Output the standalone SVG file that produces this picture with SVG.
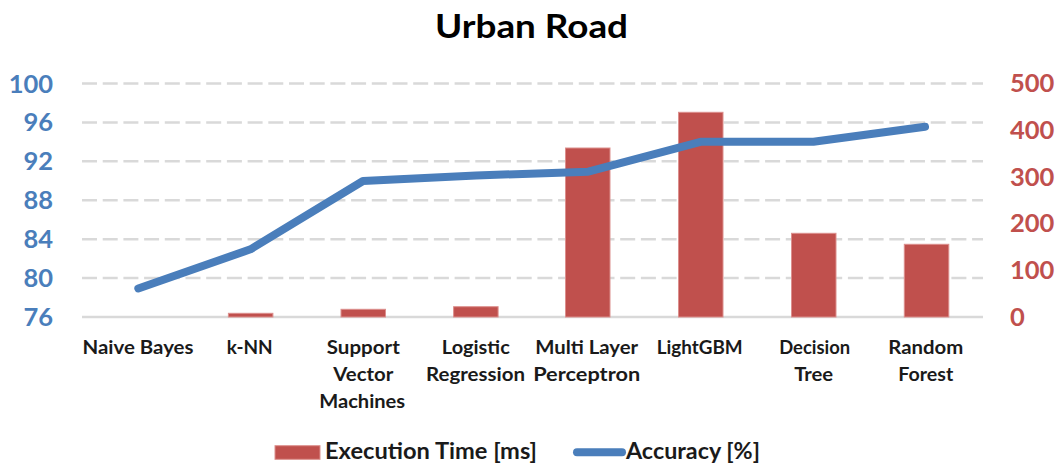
<svg xmlns="http://www.w3.org/2000/svg" width="1056" height="465" viewBox="0 0 1056 465">
  <style>
    text { font-family: Lato, "Open Sans", "Liberation Sans", sans-serif; font-weight: bold; }
    .title { font-size: 33px; fill: #000; }
    .cat { font-size: 18.5px; fill: #1a1a1a; text-anchor: middle; }
    .yl { font-size: 25.5px; fill: #4a7ebb; text-anchor: end; }
    .yr { font-size: 25.5px; fill: #c0504d; text-anchor: start; }
    .leg { font-size: 22px; fill: #1a1a1a; }
    .grid { stroke: #d9d9d9; stroke-width: 2.5; stroke-dasharray: 15 5.7; fill: none; }
    .axis { stroke: #d9d9d9; stroke-width: 2.5; fill: none; }
    .bar { fill: #c0504d; stroke: #dc8f8d; stroke-width: 1; }
    .acc { stroke: #4a7ebb; stroke-width: 8; fill: none; stroke-linejoin: round; stroke-linecap: round; }
  </style>

  <rect width="1056" height="465" fill="#ffffff"/>

  <text class="title" x="531.5" y="38" text-anchor="middle" textLength="193" lengthAdjust="spacingAndGlyphs">Urban Road</text>

  <!-- gridlines -->
  <g id="gridlines">
    <line class="grid" x1="82" y1="83.5" x2="983" y2="83.5"/>
    <line class="grid" x1="82" y1="122.4" x2="983" y2="122.4"/>
    <line class="grid" x1="82" y1="161.3" x2="983" y2="161.3"/>
    <line class="grid" x1="82" y1="200.2" x2="983" y2="200.2"/>
    <line class="grid" x1="82" y1="239.2" x2="983" y2="239.2"/>
    <line class="grid" x1="82" y1="278.1" x2="983" y2="278.1"/>
    <line class="axis" x1="82" y1="317" x2="983" y2="317"/>
  </g>

  <!-- left axis: accuracy -->
  <g id="axis-left">
    <text class="yl" x="53" y="92.5">100</text>
    <text class="yl" x="53" y="131.4">96</text>
    <text class="yl" x="53" y="170.3">92</text>
    <text class="yl" x="53" y="209.2">88</text>
    <text class="yl" x="53" y="248.2">84</text>
    <text class="yl" x="53" y="287.1">80</text>
    <text class="yl" x="53" y="326">76</text>
  </g>

  <!-- right axis: execution time (0..500, 46.7 px per 100) -->
  <g id="axis-right">
    <text class="yr" x="1010" y="92.3">500</text>
    <text class="yr" x="1010" y="138.9">400</text>
    <text class="yr" x="1010" y="185.6">300</text>
    <text class="yr" x="1010" y="232.3">200</text>
    <text class="yr" x="1010" y="279">100</text>
    <text class="yr" x="1010" y="325.5">0</text>
  </g>

  <!-- execution time bars -->
  <g id="bars">
    <rect id="bar-knn" class="bar" x="228.4" y="313.3" width="44.5" height="3.7"/>
    <rect id="bar-svm" class="bar" x="341" y="309.3" width="44.5" height="7.7"/>
    <rect id="bar-lr" class="bar" x="453.6" y="306.7" width="44.5" height="10.3"/>
    <rect id="bar-mlp" class="bar" x="565.5" y="148" width="44.5" height="169"/>
    <rect id="bar-lgbm" class="bar" x="678.5" y="112.3" width="44.5" height="204.7"/>
    <rect id="bar-dt" class="bar" x="791.5" y="233.3" width="44.5" height="83.7"/>
    <rect id="bar-rf" class="bar" x="904.3" y="244.3" width="44.5" height="72.7"/>
  </g>

  <!-- accuracy line -->
  <g id="connectors">
    <polyline class="acc" points="138.3,288.5 250.5,249.3 363,181 476,175.5 588.3,171.7 701.5,141.7 813.5,141.7 925,126.7"/>
  </g>

  <!-- category labels -->
  <g id="categories">
    <g id="cat-nb"><text class="cat" x="138" y="353.5" textLength="111" lengthAdjust="spacingAndGlyphs">Naive Bayes</text></g>
    <g id="cat-knn"><text class="cat" x="249.7" y="353.5" textLength="46" lengthAdjust="spacingAndGlyphs">k-NN</text></g>
    <g id="cat-svm">
      <text class="cat" x="363.3" y="353.5" textLength="73" lengthAdjust="spacingAndGlyphs">Support</text>
      <text class="cat" x="363.3" y="381" textLength="60" lengthAdjust="spacingAndGlyphs">Vector</text>
      <text class="cat" x="362.2" y="408" textLength="86" lengthAdjust="spacingAndGlyphs">Machines</text>
    </g>
    <g id="cat-lr">
      <text class="cat" x="475.8" y="353.5" textLength="68" lengthAdjust="spacingAndGlyphs">Logistic</text>
      <text class="cat" x="475.5" y="381" textLength="99" lengthAdjust="spacingAndGlyphs">Regression</text>
    </g>
    <g id="cat-mlp">
      <text class="cat" x="586.7" y="353.5" textLength="103" lengthAdjust="spacingAndGlyphs">Multi Layer</text>
      <text class="cat" x="586.7" y="381" textLength="107" lengthAdjust="spacingAndGlyphs">Perceptron</text>
    </g>
    <g id="cat-lgbm"><text class="cat" x="699.7" y="353.5" textLength="86" lengthAdjust="spacingAndGlyphs">LightGBM</text></g>
    <g id="cat-dt">
      <text class="cat" x="814.7" y="353.5" textLength="71" lengthAdjust="spacingAndGlyphs">Decision</text>
      <text class="cat" x="813.7" y="381" textLength="39" lengthAdjust="spacingAndGlyphs">Tree</text>
    </g>
    <g id="cat-rf">
      <text class="cat" x="925.8" y="353.5" textLength="75" lengthAdjust="spacingAndGlyphs">Random</text>
      <text class="cat" x="925.8" y="381" textLength="55" lengthAdjust="spacingAndGlyphs">Forest</text>
    </g>
  </g>

  <!-- legend -->
  <g id="legend">
    <rect class="bar" x="275" y="445.7" width="45" height="13.6"/>
    <text class="leg" x="325" y="459.3" textLength="212" lengthAdjust="spacingAndGlyphs">Execution Time [ms]</text>
    <line class="acc" x1="577" y1="452.3" x2="622" y2="452.3"/>
    <text class="leg" x="626" y="459.3" textLength="134" lengthAdjust="spacingAndGlyphs">Accuracy [%]</text>
  </g>
</svg>
